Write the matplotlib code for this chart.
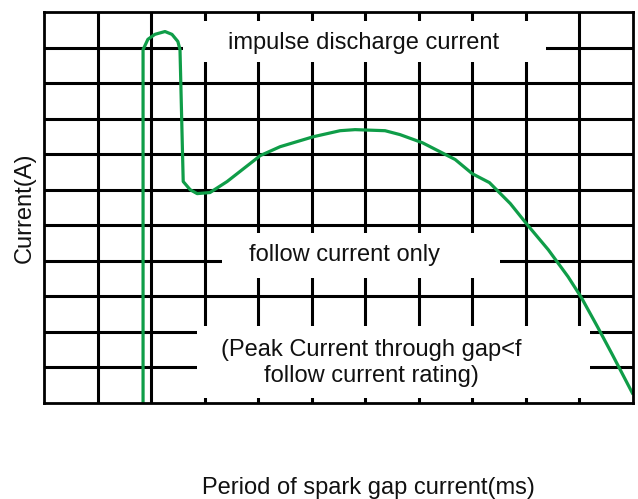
import matplotlib.pyplot as plt
from matplotlib.patches import Rectangle

plt.rcParams['font.family'] = ['Liberation Sans', 'DejaVu Sans']

# curve (grid units, 11 x 11 cells)
t = [1.85, 1.85, 1.94, 2.07, 2.26, 2.39, 2.50, 2.54, 2.60, 2.73, 2.86, 3.10,
     3.42, 4.04, 4.41, 5.03, 5.53, 5.81, 6.37, 6.65, 7.07, 7.68, 8.00, 8.32,
     8.71, 9.03, 9.42, 9.79, 10.04, 10.34, 10.62, 10.99]
current = [0.0, 9.94, 10.23, 10.37, 10.45, 10.37, 10.17, 9.94, 6.23, 6.00,
           5.89, 5.92, 6.23, 6.96, 7.21, 7.49, 7.66, 7.69, 7.66, 7.55, 7.32,
           6.85, 6.45, 6.20, 5.61, 5.01, 4.31, 3.55, 2.96, 2.14, 1.35, 0.28]

# label boxes: (x0, x1, y0, y1), text, text position
boxes = [(2.6, 9.38, 9.58, 10.76), (3.33, 8.52, 3.52, 4.79), (2.86, 10.2, 0.14, 2.17)]
labels = ['impulse discharge current', 'follow current only',
          '(Peak Current through gap<f\nfollow current rating)']
label_pos = [(5.96, 10.14), (5.61, 4.17), (6.12, 1.13)]

fig = plt.figure(figsize=(6.38, 4.99), dpi=100)
ax = fig.add_axes([0.069, 0.1924, 0.923, 0.7836])
ax.set_xlim(0, 11)
ax.set_ylim(0, 11)

for i in range(1, 11):
    ax.axvline(i, color='black', lw=2.2, zorder=1)
    ax.axhline(i, color='black', lw=2.2, zorder=1)

for (x0, x1, y0, y1), s, (tx, ty) in zip(boxes, labels, label_pos):
    ax.add_patch(Rectangle((x0, y0), x1 - x0, y1 - y0, facecolor='white',
                           edgecolor='none', zorder=2))
    ax.text(tx, ty, s, ha='center', va='center', fontsize=17,
            linespacing=1.2, color='#111111', zorder=3)

ax.plot(t, current, color='#0f9d48', lw=2.3, zorder=4)

for sp in ax.spines.values():
    sp.set_linewidth(2.0)
    sp.set_zorder(5)
ax.set_xticks([])
ax.set_yticks([])

ax.set_ylabel('Current(A)', fontsize=17, labelpad=6, color='#111111')
fig.text(0.577, 0.011, 'Period of spark gap current(ms)', ha='center',
         va='baseline', fontsize=17, color='#111111')

fig.savefig('out.png', dpi=100)
